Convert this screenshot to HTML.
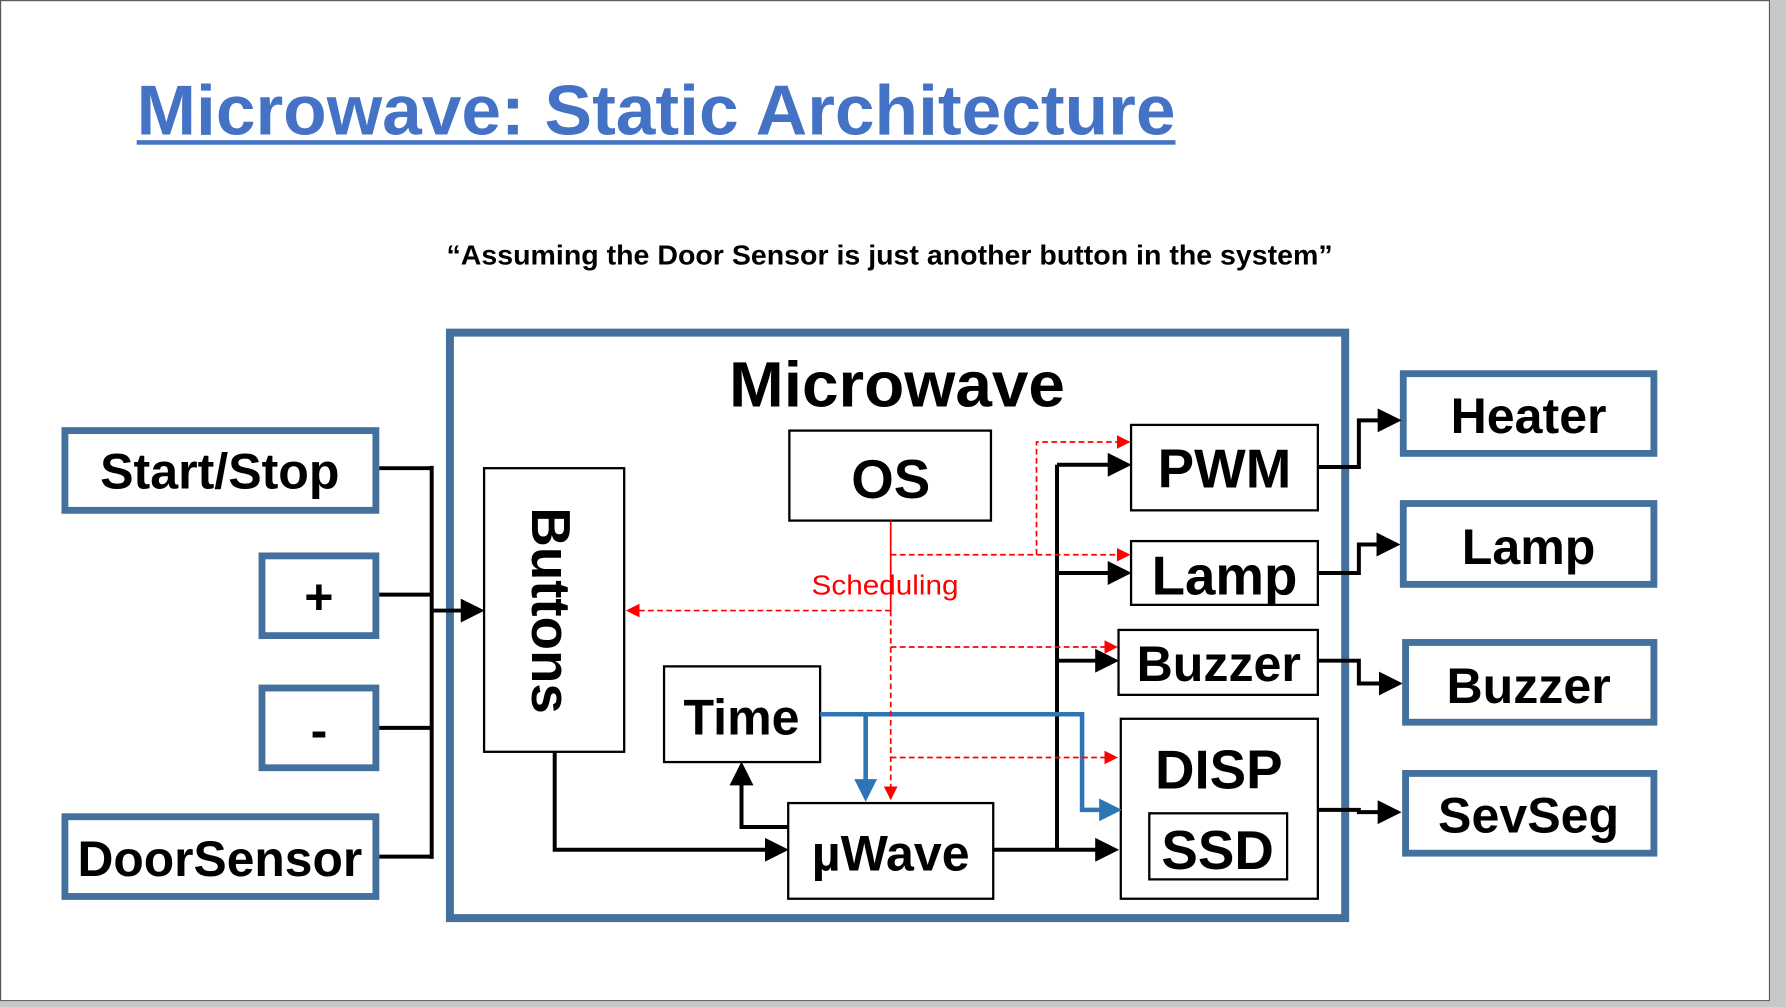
<!DOCTYPE html>
<html><head><meta charset="utf-8"><style>
html,body{margin:0;padding:0;background:#fff;}
svg{display:block;}
text{font-family:"Liberation Sans Narrow","Liberation Sans",sans-serif;font-weight:bold;}
</style></head><body>
<svg width="1786" height="1007" viewBox="0 0 1568 884" xmlns="http://www.w3.org/2000/svg">
<defs>
<marker id="ab" markerWidth="6" markerHeight="6" refX="5" refY="3" orient="auto" markerUnits="strokeWidth"><path d="M0,0 L6,3 L0,6 z" fill="#000"/></marker>
<marker id="ar" markerWidth="8" markerHeight="8" refX="7" refY="4" orient="auto" markerUnits="strokeWidth"><path d="M0,0 L8,4 L0,8 z" fill="#f00"/></marker>
<marker id="abl" markerWidth="5" markerHeight="5" refX="4" refY="2.5" orient="auto" markerUnits="strokeWidth"><path d="M0,0 L5,2.5 L0,5 z" fill="#2e75b6"/></marker>
</defs>
<rect x="0" y="0" width="1568" height="884" fill="#fff"/>
<rect x="0.5" y="0.5" width="1553" height="878" fill="none" stroke="#555" stroke-width="1"/>
<rect x="1554" y="0" width="14" height="884" fill="#c8c8c8"/>
<rect x="0" y="879" width="1568" height="5" fill="#c8c8c8"/>

<text x="120" y="118" font-size="62" fill="#4472c4" textLength="912" lengthAdjust="spacingAndGlyphs">Microwave: Static Architecture</text>
<rect x="120" y="123" width="912" height="4" fill="#4472c4"/>
<text x="392" y="232" font-size="24" fill="#000" textLength="778" lengthAdjust="spacingAndGlyphs">“Assuming the Door Sensor is just another button in the system”</text>

<rect x="395" y="292" width="786" height="514" fill="none" stroke="#44709d" stroke-width="7"/>
<text x="640" y="357" font-size="56" textLength="295" lengthAdjust="spacingAndGlyphs">Microwave</text>

<g fill="none" stroke="#44709d" stroke-width="6">
<rect x="57" y="378" width="273" height="70"/>
<rect x="230" y="488" width="100" height="70"/>
<rect x="230" y="604" width="100" height="70"/>
<rect x="57" y="717" width="273" height="70"/>
<rect x="1232" y="328" width="220" height="70"/>
<rect x="1232" y="442" width="220" height="71"/>
<rect x="1234" y="564" width="218" height="70"/>
<rect x="1234" y="679" width="218" height="70"/>
</g>
<g font-size="44" text-anchor="middle">
<text x="193" y="429">Start/Stop</text>
<text x="280" y="539">+</text>
<text x="280" y="656">-</text>
<text x="193" y="769" textLength="250" lengthAdjust="spacingAndGlyphs">DoorSensor</text>
<text x="1342" y="380">Heater</text>
<text x="1342" y="495">Lamp</text>
<text x="1342" y="617">Buzzer</text>
<text x="1342" y="731">SevSeg</text>
</g>

<g fill="#fff" stroke="#000" stroke-width="2">
<rect x="425" y="411" width="123" height="249"/>
<rect x="693" y="378" width="177" height="79"/>
<rect x="583" y="585" width="137" height="84"/>
<rect x="692" y="705" width="180" height="84"/>
<rect x="993" y="373" width="164" height="75"/>
<rect x="993" y="475" width="164" height="56"/>
<rect x="982" y="553" width="175" height="57"/>
<rect x="984" y="631" width="173" height="158"/>
<rect x="1009" y="714" width="121" height="58"/>
</g>
<g font-size="48" text-anchor="middle">
<text x="782" y="437">OS</text>
<text x="651" y="645" font-size="44">Time</text>
<text x="782" y="764" font-size="44">µWave</text>
<text x="1075" y="428">PWM</text>
<text x="1075" y="522">Lamp</text>
<text x="1070" y="598" font-size="44">Buzzer</text>
<text x="1070" y="692">DISP</text>
<text x="1069" y="763">SSD</text>
<text transform="translate(467,536) rotate(90)" font-size="48">Buttons</text>
</g>

<!-- left connectors -->
<g fill="none" stroke="#000" stroke-width="3.5">
<path d="M333,411 H379 M333,522 H379 M333,639 H379 M333,752 H379 M379,409 V754"/>
<path d="M379,536 H422" marker-end="url(#ab)"/>
<path d="M487,660 V746 H689" marker-end="url(#ab)"/>
<path d="M692,726 H651 V672" marker-end="url(#ab)"/>
<path d="M872,746 H928"/>
<path d="M928,408 V746"/>
<path d="M928,408 H990" marker-end="url(#ab)"/>
<path d="M928,503 H990" marker-end="url(#ab)"/>
<path d="M928,580 H979" marker-end="url(#ab)"/>
<path d="M928,746 H979" marker-end="url(#ab)"/>
<path d="M1157,410 H1193 V369 H1227" marker-end="url(#ab)"/>
<path d="M1157,503 H1193 V478 H1226" marker-end="url(#ab)"/>
<path d="M1157,580 H1193 V600 H1228" marker-end="url(#ab)"/>
<path d="M1157,711 H1193 V713 H1227" marker-end="url(#ab)"/>
</g>

<!-- blue -->
<g fill="none" stroke="#2e75b6" stroke-width="4">
<path d="M720,627 H950 V711 H981" marker-end="url(#abl)"/>
<path d="M760,627 V700" marker-end="url(#abl)"/>
</g>

<!-- red -->
<g fill="none" stroke="#f00" stroke-width="1.5">
<path d="M782,457 V536"/>
<path d="M782,536 V701" stroke-dasharray="5,3" marker-end="url(#ar)"/>
<path d="M782,536 H551" stroke-dasharray="5,3" marker-end="url(#ar)"/>
<path d="M782,487 H991" stroke-dasharray="5,3" marker-end="url(#ar)"/>
<path d="M910,487 V388 H991" stroke-dasharray="5,3" marker-end="url(#ar)"/>
<path d="M782,568 H980" stroke-dasharray="5,3" marker-end="url(#ar)"/>
<path d="M782,665 H980" stroke-dasharray="5,3" marker-end="url(#ar)"/>
</g>
<text x="777" y="522" font-size="24" font-weight="normal" fill="#f00" text-anchor="middle" style="font-weight:normal" textLength="129" lengthAdjust="spacingAndGlyphs">Scheduling</text>
</svg>
</body></html>
